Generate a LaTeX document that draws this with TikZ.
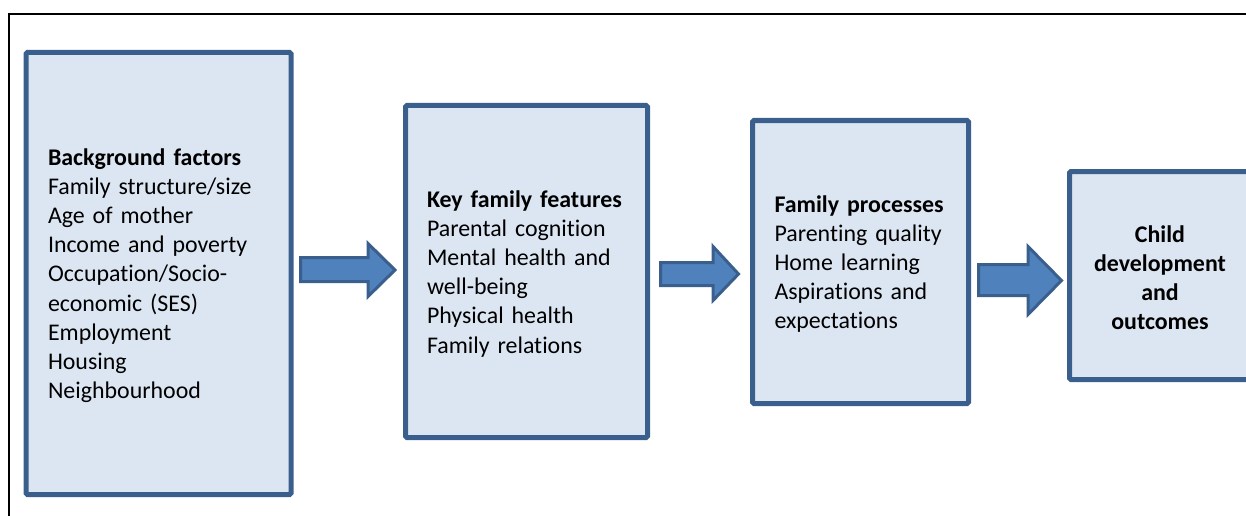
\documentclass[tikz,border=0pt]{standalone}
\usepackage{fontspec}
\setmainfont{Carlito}[Ligatures=NoCommon]
\definecolor{boxfill}{HTML}{DCE6F2}
\definecolor{boxline}{HTML}{3A5F8C}
\definecolor{arrowfill}{HTML}{4F81BD}

\begin{document}
\begin{tikzpicture}[x=1pt, y=-1pt,
    box/.style={draw=boxline, fill=boxfill, line width=5pt, rounded corners=1.5pt,
      font={\fontsize{23.9}{29.2}\selectfont}, inner sep=0pt, text height=21pt},
    flow/.style={draw=boxline, fill=arrowfill, line width=3pt, line join=miter}]
    \useasboundingbox (0,0) rectangle (1246,516);
    \clip (0,0) rectangle (1246,516);

    % outer frame, cut off at right and bottom
    \draw[line width=2pt] (9,600) -- (9,14) -- (1300,14);

    \node[box, minimum width=265, minimum height=442, text width=221, align=left] (BF) at (158.5,273.5)
      {\textbf{Background factors}\\Family structure/size\\Age of mother\\Income and poverty\\Occupation/Socio-\\economic (SES)\\Employment\\Housing\\Neighbourhood};
    \node[box, minimum width=242, minimum height=332, text width=199, align=left] (KF) at (526.5,271.5)
      {\textbf{Key family features}\\Parental cognition\\Mental health and\\well-being\\Physical health\\Family relations};
    \node[box, minimum width=216, minimum height=283, text width=172, align=left] (FP) at (860.5,262)
      {\textbf{Family processes}\\Parenting quality\\Home learning\\Aspirations and\\expectations};
    \node[box, minimum width=181, minimum height=208, text width=160, align=center] (CD) at (1160,275.5)
      {\textbf{Child}\\\textbf{development}\\\textbf{and}\\\textbf{outcomes}};

    \draw[flow] (300.5,257.5) -- (368,257.5) -- (368,243.5) -- (395,270) -- (368,296.5) -- (368,281.5) -- (300.5,281.5) -- cycle;
    \draw[flow] (660.5,262.5) -- (713,262.5) -- (713,246.5) -- (738.5,274) -- (713,300.5) -- (713,285.5) -- (660.5,285.5) -- cycle;
    \draw[flow] (978.5,264.5) -- (1028,264.5) -- (1028,246.5) -- (1061.5,280.5) -- (1028,314.5) -- (1028,295.5) -- (978.5,295.5) -- cycle;
\end{tikzpicture}
\end{document}
